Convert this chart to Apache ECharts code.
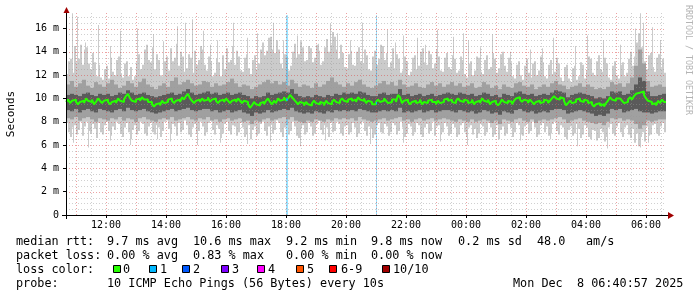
<!DOCTYPE html>
<html><head><meta charset="utf-8">
<script src="https://cdn.jsdelivr.net/npm/echarts@6/dist/echarts.min.js"></script>
<style>html,body{margin:0;padding:0;background:#fff}#c{width:697px;height:297px}</style>
</head><body><div id="c"></div>
<script>
// ---- time axis: minutes since 10:40 ----
const STEP = 8;        // inner bands: one value every 8 minutes
const FINE = 4;        // outer envelope and median: one value every 4 minutes
const X_MAX = 1200;
const Y_MAX = 17.33;
const xTickMinutes = [80, 200, 320, 440, 560, 680, 800, 920, 1040, 1160];
const xTickLabels = ['12:00','14:00','16:00','18:00','20:00','22:00','00:00','02:00','04:00','06:00'];
const yTickValues = [0, 2, 4, 6, 8, 10, 12, 14, 16];
const yTickLabels = ['0','2 m','4 m','6 m','8 m','10 m','12 m','14 m','16 m'];

// ---- smoke: sorted ping envelopes (ms) ----
const hi1 = [
12.1,13.2,13.4,12.2,14.5,13.1,13.4,14.6,12.9,14.2,14.4,13.0,12.5,13.9,13.1,11.9,12.9,11.8,11.6,12.5,
12.8,11.7,13.5,12.3,12.0,13.3,13.6,12.1,11.8,13.0,13.2,11.9,12.7,11.6,11.9,13.1,13.8,12.5,12.9,14.2,
14.6,13.3,13.1,14.4,12.5,13.8,13.3,12.0,11.9,13.2,13.6,12.4,14.3,13.2,13.5,14.7,12.8,14.0,13.6,12.3,
12.6,13.8,13.5,12.2,14.1,12.9,13.3,14.5,14.2,12.9,12.4,13.6,13.2,11.9,12.2,13.4,13.1,11.9,13.7,12.5,
14.3,13.1,13.3,14.5,12.9,14.1,13.6,12.4,12.3,13.5,13.8,12.6,12.1,13.3,13.7,12.5,13.0,14.2,14.8,13.7,
14.1,15.2,15.3,14.2,13.9,15.0,14.2,13.0,12.6,13.8,13.6,12.4,12.8,14.0,14.7,13.5,13.8,14.9,14.4,13.2,
13.3,14.5,14.3,13.1,13.5,14.6,14.1,12.9,13.2,14.4,15.1,14.0,14.6,15.7,15.3,14.2,13.4,14.6,13.9,12.7,
12.6,13.8,14.1,12.9,12.8,14.0,14.4,13.2,13.0,14.2,13.7,12.5,12.4,13.6,14.1,12.9,13.4,14.6,14.5,13.3,
13.9,12.7,13.1,14.3,12.6,13.8,13.4,12.2,12.4,13.6,13.2,12.0,12.3,13.5,13.7,12.5,12.8,14.0,14.3,13.1,
12.9,14.1,13.8,12.6,13.0,14.2,13.6,12.4,12.3,13.5,13.9,12.7,12.5,13.7,13.4,12.2,12.4,13.6,13.3,12.1,
11.8,13.0,13.2,12.0,12.4,13.6,13.5,12.3,12.1,13.3,13.7,12.5,12.7,13.9,13.4,12.2,12.6,13.8,14.0,12.8,
12.3,13.5,13.1,11.9,11.7,12.9,13.2,12.0,11.6,12.8,13.4,12.2,11.8,13.0,13.2,12.0,12.4,13.6,13.1,11.9,
11.7,12.9,13.3,12.1,12.3,13.5,13.0,11.8,11.5,12.7,12.9,11.7,11.4,12.6,12.8,11.6,11.9,13.1,12.9,11.7,
12.4,13.6,13.4,12.2,12.0,13.2,13.7,12.5,12.3,13.5,13.0,11.8,11.6,12.8,13.2,12.0,11.7,12.9,13.1,11.9,
12.2,13.4,14.0,12.8,13.6,14.8,15.6,14.4,14.4,13.2,12.5,13.7,13.9,12.7,12.3,13.5,13.8,12.6,13.4,12.2];
const lo1 = [
7.9,7.1,6.7,7.5,7.7,6.9,7.3,8.0,6.8,7.6,8.0,7.2,7.0,7.8,7.4,6.6,7.9,7.1,6.9,7.7,
8.0,7.2,6.8,7.6,7.3,8.0,7.8,7.0,6.7,7.5,7.9,7.1,6.5,7.3,7.7,6.9,7.2,8.0,7.8,7.0,
6.8,7.6,7.9,7.1,6.9,7.7,7.5,6.7,7.2,8.0,8.1,7.4,7.0,7.8,7.6,6.8,7.9,7.1,7.3,8.1,
7.7,6.9,6.7,7.5,7.8,7.0,7.2,8.0,7.6,6.8,7.1,7.9,8.1,7.3,6.9,7.7,7.4,6.6,7.0,7.8,
8.0,7.2,6.9,7.7,7.6,6.8,7.1,7.9,7.5,6.7,6.9,7.7,6.5,7.3,7.6,6.8,7.0,7.8,8.0,7.2,
6.8,7.6,7.8,7.0,7.3,8.1,7.9,7.1,6.7,7.5,7.7,6.9,7.2,8.0,7.6,6.8,6.6,7.4,7.7,6.9,
7.1,7.9,7.6,6.8,7.0,7.8,8.1,7.3,6.9,7.7,7.5,6.7,7.9,7.1,7.2,8.0,7.8,7.0,6.8,7.6,
7.7,6.9,7.1,7.9,7.5,6.7,7.0,7.8,8.0,7.2,6.8,7.6,7.4,6.6,6.9,7.7,7.9,7.1,7.0,7.8,
7.6,6.8,7.1,7.9,7.7,6.9,7.2,8.0,7.5,6.7,7.0,7.8,7.6,6.8,7.1,7.9,7.7,6.9,6.7,7.5,
7.8,7.0,7.2,8.0,6.8,7.6,7.7,6.9,7.1,7.9,7.6,6.8,7.0,7.8,7.5,6.7,6.9,7.7,7.9,7.1,
6.7,7.5,7.7,6.9,7.4,6.6,7.0,7.8,7.6,6.8,7.1,7.9,7.5,6.7,6.9,7.7,6.5,7.3,7.6,6.8,
7.0,7.8,7.5,6.7,7.1,7.9,7.7,6.9,6.8,7.6,7.8,7.0,7.2,8.0,7.5,6.7,6.9,7.7,7.9,7.1,
7.6,6.8,7.0,7.8,8.0,7.2,6.9,7.7,7.5,6.7,6.5,7.3,7.6,6.8,7.0,7.8,7.4,6.6,6.9,7.7,
7.5,6.7,6.5,7.3,7.2,6.4,6.6,7.4,7.1,6.3,6.7,7.5,7.8,7.0,6.8,7.6,7.9,7.1,6.7,7.5,
7.7,6.9,6.6,7.4,6.2,7.0,5.9,6.7,7.1,6.3,7.6,6.8,6.9,7.7,7.8,7.0,6.8,7.6,7.9,7.1];
const hi2 = [
11.2,11.5,11.0,11.3,11.6,11.1,10.9,11.4,11.2,11.0,
11.3,11.6,11.2,10.9,11.1,11.5,11.3,11.0,11.4,11.7,
11.2,11.0,10.8,11.1,11.3,11.0,11.5,11.8,11.2,11.4,
11.6,11.3,11.1,11.2,11.5,11.4,11.0,11.3,11.1,11.2,
11.4,11.7,11.3,11.0,11.2,11.1,10.8,11.0,11.2,11.4,
11.6,11.3,11.5,11.2,11.4,11.1,11.6,11.3,11.0,11.2,
11.1,10.9,11.3,11.0,11.2,11.5,11.8,11.4,11.2,11.0,
11.3,11.1,11.4,11.6,11.2,11.0,10.9,11.1,11.3,11.5,
11.2,11.4,11.1,11.6,11.2,11.0,11.1,11.3,11.0,10.9,
11.2,11.4,11.1,11.3,11.0,11.2,11.4,11.1,11.3,11.0,
11.1,11.3,10.9,11.0,11.4,11.2,10.9,11.1,10.8,11.2,
11.0,10.9,11.3,11.4,11.1,11.0,11.2,10.8,11.0,11.2,
11.0,11.3,11.5,11.2,11.1,10.8,11.0,11.1,11.3,11.0,
11.2,11.0,10.8,10.9,10.8,11.0,11.4,11.2,11.3,11.0,
11.3,11.8,12.8,14.2,13.0,11.5,11.0,11.1,11.2,11.0];
const hi3 = [
10.3,10.4,10.3,10.2,10.4,10.5,10.3,10.2,10.4,10.3,
10.4,10.2,10.3,10.5,10.4,10.7,10.5,10.3,10.4,10.5,
10.3,10.2,10.1,10.2,10.3,10.4,10.5,10.3,10.4,10.6,
10.8,10.5,10.3,10.4,10.5,10.6,10.4,10.5,10.3,10.4,
10.5,10.3,10.4,10.5,10.3,10.2,10.0,10.2,10.1,10.2,
10.5,10.3,10.4,10.5,10.6,10.5,10.8,10.4,10.2,10.1,
10.2,10.1,10.3,10.2,10.1,10.3,10.2,10.4,10.3,10.5,
10.4,10.5,10.4,10.6,10.5,10.3,10.2,10.2,10.4,10.5,
10.3,10.4,10.4,10.8,10.3,10.4,10.2,10.3,10.4,10.2,
10.3,10.4,10.2,10.3,10.4,10.5,10.4,10.3,10.5,10.4,
10.3,10.4,10.2,10.3,10.5,10.4,10.2,10.3,10.1,10.4,
10.3,10.2,10.5,10.6,10.4,10.3,10.4,10.2,10.3,10.4,
10.3,10.5,10.7,10.6,10.5,10.1,10.3,10.4,10.5,10.4,
10.3,10.2,10.0,10.1,10.0,10.2,10.6,10.5,10.6,10.3,
10.4,10.7,11.2,11.8,11.5,10.6,10.2,10.2,10.3,10.4];
const median = [
9.7,9.9,9.6,9.8,9.9,9.7,9.5,9.7,9.8,9.6,10.0,9.8,9.7,9.9,9.5,9.7,10.0,9.8,9.6,9.8,
9.9,9.7,9.5,9.7,9.8,9.6,10.0,9.8,9.7,9.9,10.2,10.4,10.0,9.8,9.7,9.9,10.0,9.8,10.1,9.9,
9.9,9.7,9.7,9.5,9.3,9.5,9.6,9.4,9.8,9.6,9.7,9.9,10.0,9.8,9.6,9.8,9.9,9.7,10.1,9.9,
10.2,10.4,10.0,9.8,9.6,9.8,9.9,9.7,10.0,9.8,9.9,10.1,9.7,9.9,10.0,9.8,9.6,9.8,9.9,9.7,
10.0,9.8,9.6,9.8,9.9,9.7,10.0,9.8,9.6,9.8,9.7,9.5,9.2,9.4,9.7,9.5,9.4,9.6,9.7,9.5,
9.8,10.0,9.7,9.5,9.8,9.6,10.0,9.8,9.9,10.1,9.8,10.0,10.3,10.1,9.9,9.7,9.5,9.7,9.6,9.4,
9.7,9.5,9.4,9.6,9.8,9.6,9.5,9.7,9.6,9.4,9.8,9.6,9.5,9.7,9.9,9.7,9.6,9.8,10.0,9.8,
9.7,9.9,10.0,9.8,9.9,9.7,10.1,9.9,9.8,10.0,9.6,9.8,9.7,9.5,9.5,9.7,9.9,9.7,9.8,10.0,
9.8,9.6,9.7,9.9,9.9,9.7,10.3,10.1,9.6,9.8,9.9,9.7,9.5,9.7,9.8,9.6,9.7,9.9,9.5,9.7,
9.6,9.8,9.9,9.7,9.7,9.5,9.8,9.6,9.7,9.9,10.0,9.8,9.9,9.7,9.6,9.8,10.0,9.8,9.7,9.9,
9.8,9.6,9.7,9.9,9.5,9.7,9.8,9.6,10.0,9.8,9.7,9.9,9.5,9.7,9.8,9.6,9.4,9.6,9.9,9.7,
9.6,9.8,9.7,9.5,9.8,10.0,10.1,9.9,9.7,9.9,9.8,9.6,9.9,9.7,9.5,9.7,9.8,9.6,9.7,9.9,
9.8,9.6,9.8,10.0,10.2,10.0,9.9,10.1,10.0,9.8,9.4,9.6,9.8,9.6,9.7,9.9,10.0,9.8,9.7,9.9,
9.8,9.6,9.7,9.5,9.3,9.5,9.6,9.4,9.5,9.3,9.6,9.8,10.1,9.9,9.8,10.0,10.0,9.9,9.8,9.6,
9.7,9.9,10.1,9.9,10.2,10.4,10.5,10.6,10.6,10.3,10.0,9.8,9.7,9.5,9.6,9.4,9.8,9.6,9.9,9.7];
const lo3 = [
9.0,8.9,9.1,8.8,9.0,9.1,8.9,8.8,9.1,9.0,
8.9,8.8,9.0,9.1,8.9,9.2,9.0,8.9,9.0,9.1,
8.9,8.8,8.7,8.8,8.9,9.0,9.1,8.9,9.0,9.1,
9.2,9.0,8.9,9.0,9.1,9.1,8.9,9.0,8.8,8.9,
9.0,8.8,8.9,9.0,8.8,8.7,8.5,8.8,8.7,8.8,
9.0,8.8,8.9,9.0,9.1,9.0,9.2,8.9,8.8,8.7,
8.8,8.7,8.9,8.8,8.7,8.9,8.8,9.0,8.9,9.0,
8.9,9.0,8.9,9.1,9.0,8.9,8.8,8.8,8.9,9.0,
8.9,9.0,8.9,9.2,8.8,8.9,8.8,8.9,9.0,8.8,
8.9,9.0,8.8,8.9,9.0,9.0,8.9,8.8,9.0,8.9,
8.8,8.9,8.7,8.8,9.0,8.9,8.7,8.8,8.6,8.9,
8.8,8.7,9.0,9.1,8.9,8.8,8.9,8.7,8.8,8.9,
8.8,9.0,9.1,9.1,9.0,8.7,8.8,8.9,9.0,8.9,
8.8,8.7,8.5,8.6,8.5,8.7,9.1,9.0,9.1,8.8,
8.9,9.0,9.1,8.9,8.8,8.8,8.7,8.8,8.9,8.9];
const lo2 = [
8.3,8.2,8.4,8.1,8.3,8.4,8.2,8.0,8.3,8.2,
8.1,8.3,8.2,8.4,8.1,8.3,8.2,8.0,8.3,8.4,
8.2,8.1,8.0,8.2,8.3,8.2,8.4,8.1,8.2,8.3,
8.4,8.2,8.1,8.3,8.2,8.4,8.1,8.2,8.0,8.2,
8.3,8.1,8.2,8.3,8.0,8.1,7.8,8.1,8.0,8.2,
8.3,8.1,8.2,8.3,8.4,8.2,8.4,8.1,8.0,7.9,
8.1,8.0,8.2,8.1,8.0,8.2,8.1,8.3,8.2,8.3,
8.2,8.3,8.1,8.4,8.2,8.1,8.0,8.1,8.2,8.3,
8.1,8.2,8.3,8.4,8.1,8.2,8.0,8.2,8.3,8.1,
8.2,8.3,8.1,8.2,8.3,8.2,8.1,8.0,8.2,8.1,
8.0,8.2,8.0,8.1,8.2,8.1,7.9,8.1,7.8,8.2,
8.1,8.0,8.2,8.3,8.1,8.0,8.2,7.9,8.1,8.2,
8.1,8.2,8.3,8.4,8.2,7.9,8.1,8.2,8.3,8.1,
8.0,7.9,7.8,7.9,7.7,8.0,8.3,8.2,8.3,8.1,
8.2,8.1,7.8,7.4,7.7,8.1,8.0,8.1,8.2,8.2];

// single-ping outliers (minute offset, ms)
const spikeUpT = [12,22,38,64,88,108,142,174,194,222,238,252,274,288,302,334,362,382,414,434,462,504,528,542,568,592,642,658,674,702,718,742,774,794,804,828,852,888,928,952,974,1018,1042,1074,1108,1138,1148,1154,1172,1188];
const spikeUpV = [17.3,17.0,14.8,16.3,14.5,15.8,16.0,15.5,14.9,16.2,16.5,16.8,15.8,14.6,15.0,16.5,15.2,15.6,16.5,15.0,15.4,14.7,16.4,15.6,15.0,16.5,15.9,14.8,15.4,15.2,14.6,15.9,15.3,15.6,15.0,14.4,15.5,14.0,14.2,14.3,15.2,14.5,15.4,15.0,14.6,16.0,17.3,16.5,16.1,15.0];
const spikeDnT = [14,44,88,128,182,208,262,308,362,408,468,518,608,674,748,802,908,968,1022,1082,1148,1164];
const spikeDnV = [6.2,5.8,6.4,6.0,6.5,6.3,6.0,6.2,6.1,6.3,5.9,6.4,6.1,6.2,6.3,6.0,6.4,6.5,5.9,5.7,5.8,6.2];

// packet loss events (minute offset, duration, lost pings, median)
const lossT = [440, 620];
const lossW = [4, 2];
const lossN = [1, 1];
const lossMed = [9.9, 9.6];

const lossColors = ['#26ff00','#00b8ff','#0059ff','#7e00ff','#ff00ff','#ff5500','#ff0000','#a10000'];
const lossLabels = ['0','1','2','3','4','5','6-9','10/10'];

const statsRtt = ['median rtt:','9.7 ms avg','10.6 ms max','9.2 ms min','9.8 ms now','0.2 ms sd','48.0','am/s'];
const statsLoss = ['packet loss:','0.00 % avg','0.83 % max','0.00 % min','0.00 % now'];
const probeText = ['probe:','10 ICMP Echo Pings (56 Bytes) every 10s'];
const dateText = 'Mon Dec  8 06:40:57 2025';

// ---- build ----
const MONO = '"DejaVu Sans Mono", monospace';
function band(lo, hi, step) { return lo.map((l, i) => [i * step, l, hi[i], step]); }
function rectItem(color, opacity) {
  return function (params, api) {
    const t = api.value(0), w = api.value(3);
    const p0 = api.coord([t, api.value(2)]);
    const p1 = api.coord([t + w, api.value(1)]);
    return { type: 'rect', shape: { x: p0[0], y: p0[1], width: p1[0] - p0[0], height: p1[1] - p0[1] },
      style: { fill: color, opacity: opacity == null ? 1 : opacity } };
  };
}
const gridMinor = [], gridMajor = [];
for (let m = 20; m < X_MAX; m += 30) ((m - 20) % 60 === 0 ? gridMajor : gridMinor).push(m);
const hMinor = [], hMajor = [];
for (let v = 0.5; v < Y_MAX; v += 0.5) (v % 2 === 0 ? hMajor : hMinor).push(v);

function vLine(color) {
  return function (params, api) {
    const t = api.value(0);
    const a = api.coord([t, Y_MAX]), b = api.coord([t, 0]);
    const x = Math.round(a[0]) + 0.5;
    return { type: 'line', shape: { x1: x, y1: a[1], x2: x, y2: b[1] },
      style: { stroke: color, lineWidth: 1, lineDash: [1, 2] } };
  };
}
function hLine(color) {
  return function (params, api) {
    const v = api.value(0);
    const a = api.coord([0, v]), b = api.coord([X_MAX, v]);
    const y = Math.round(a[1]) + 0.5;
    return { type: 'line', shape: { x1: a[0], y1: y, x2: b[0], y2: y },
      style: { stroke: color, lineWidth: 1, lineDash: [1, 2] } };
  };
}

const medData = median.map((v, i) => [i * FINE, v]);
medData.push([X_MAX, median[median.length - 1]]);

const chart = echarts.init(document.getElementById('c'), null, { renderer: 'canvas' });

const graphic = [];
function txt(x, y, s, font, fill) {
  graphic.push({ type: 'text', x: x, y: y, silent: true,
    style: { text: s, font: font || ('11.8px ' + MONO), fill: fill || '#000', verticalAlign: 'middle', align: 'left' } });
}
const rttX = [16, 107, 193, 286, 371, 458, 537, 586];
statsRtt.forEach((s, i) => txt(rttX[i], 242, s));
const lossX = [16, 107, 193, 286, 371];
statsLoss.forEach((s, i) => txt(lossX[i], 256, s));
txt(16, 270, 'loss color:');
const boxX = [113, 149, 182, 221, 257, 296, 329, 382];
const boxLabelX = [123, 160, 193, 232, 268, 307, 341, 393];
lossLabels.forEach((s, i) => {
  graphic.push({ type: 'rect', silent: true, shape: { x: boxX[i] + 0.5, y: 265.5, width: 7, height: 7 },
    style: { fill: lossColors[i], stroke: '#000', lineWidth: 1 } });
  txt(boxLabelX[i], 270, s);
});
txt(16, 284, probeText[0]);
txt(107, 284, probeText[1]);
txt(513, 284, dateText);
graphic.push({ type: 'text', x: 11, y: 114, rotation: Math.PI / 2, silent: true,
  style: { text: 'Seconds', font: '11px ' + MONO, fill: '#000', align: 'center', verticalAlign: 'middle' } });
graphic.push({ type: 'text', x: 688, y: 5, rotation: -Math.PI / 2, silent: true,
  style: { text: 'RRDTOOL / TOBI OETIKER', font: '8.3px ' + MONO, fill: '#b4b4b4', align: 'left', verticalAlign: 'middle' } });
graphic.push({ type: 'line', silent: true, shape: { x1: 62, y1: 215.5, x2: 670, y2: 215.5 }, style: { stroke: '#000', lineWidth: 1 }, z: 20 });
graphic.push({ type: 'line', silent: true, shape: { x1: 66.5, y1: 219, x2: 66.5, y2: 10 }, style: { stroke: '#000', lineWidth: 1 }, z: 20 });
graphic.push({ type: 'polygon', silent: true, shape: { points: [[668, 212], [674, 215.5], [668, 219]] }, style: { fill: '#a00000' }, z: 20 });
graphic.push({ type: 'polygon', silent: true, shape: { points: [[63.5, 13], [66.5, 7], [69.5, 13]] }, style: { fill: '#a00000' }, z: 20 });

chart.setOption({
  animation: false,
  backgroundColor: '#ffffff',
  grid: { left: 66, right: 31, top: 13, bottom: 82, containLabel: false },
  xAxis: {
    type: 'value', min: 0, max: X_MAX,
    axisLine: { show: false },
    splitLine: { show: false },
    axisTick: { show: true, customValues: xTickMinutes, length: 3, lineStyle: { color: '#000' } },
    axisLabel: {
      customValues: xTickMinutes, margin: 5,
      formatter: v => xTickLabels[xTickMinutes.indexOf(v)] || '',
      fontFamily: MONO, fontSize: 10, color: '#000'
    }
  },
  yAxis: {
    type: 'value', min: 0, max: Y_MAX,
    axisLine: { show: false },
    splitLine: { show: false },
    axisTick: { show: true, customValues: yTickValues, length: 3, lineStyle: { color: '#000' } },
    axisLabel: {
      customValues: yTickValues, margin: 7,
      formatter: v => yTickLabels[yTickValues.indexOf(v)] || '',
      fontFamily: MONO, fontSize: 10, color: '#000'
    }
  },
  graphic: graphic,
  series: [
    { type: 'custom', name: 'ping1-10', z: 1, renderItem: rectItem('#cbcbcb'), data: band(lo1, hi1, FINE), encode: { x: 0, y: [1, 2] }, silent: true },
    { type: 'custom', name: 'outliers-up', z: 1, renderItem: rectItem('#cbcbcb'), data: spikeUpT.map((t, i) => [t, 11, spikeUpV[i], 2]), encode: { x: 0, y: [1, 2] }, silent: true },
    { type: 'custom', name: 'outliers-down', z: 1, renderItem: rectItem('#cbcbcb'), data: spikeDnT.map((t, i) => [t, spikeDnV[i], 8, 2]), encode: { x: 0, y: [1, 2] }, silent: true },
    { type: 'custom', name: 'loss', z: 2, renderItem: rectItem('#00b8ff', 0.4), data: lossT.map((t, i) => [t, 0, Y_MAX - 0.2, lossW[i]]), encode: { x: 0, y: [1, 2] }, silent: true },
    { type: 'custom', name: 'ping2-9', z: 3, renderItem: rectItem('#a0a0a0'), data: band(lo2, hi2, STEP), encode: { x: 0, y: [1, 2] }, silent: true },
    { type: 'custom', name: 'ping3-8', z: 3, renderItem: rectItem('#5a5a5a'), data: band(lo3, hi3, STEP), encode: { x: 0, y: [1, 2] }, silent: true },
    { type: 'custom', name: 'gridMinorV', z: 4, renderItem: vLine('rgba(150,150,150,0.45)'), data: gridMinor.map(m => [m]), silent: true },
    { type: 'custom', name: 'gridMajorV', z: 4, renderItem: vLine('rgba(220,70,70,0.5)'), data: gridMajor.map(m => [m]), silent: true },
    { type: 'custom', name: 'gridMinorH', z: 4, renderItem: hLine('rgba(150,150,150,0.45)'), data: hMinor.map(v => [v]), silent: true },
    { type: 'custom', name: 'gridMajorH', z: 4, renderItem: hLine('rgba(220,70,70,0.5)'), data: hMajor.map(v => [v]), silent: true },
    { type: 'line', name: 'median', z: 6, step: 'end', data: medData, showSymbol: false, silent: true,
      lineStyle: { color: '#26ff00', width: 2 } },
    { type: 'custom', name: 'loss-median', z: 7, renderItem: rectItem(lossColors[1]), data: lossT.map((t, i) => [t, lossMed[i] - 0.09, lossMed[i] + 0.09, lossW[i]]), encode: { x: 0, y: [1, 2] }, silent: true }
  ]
});
</script></body></html>
